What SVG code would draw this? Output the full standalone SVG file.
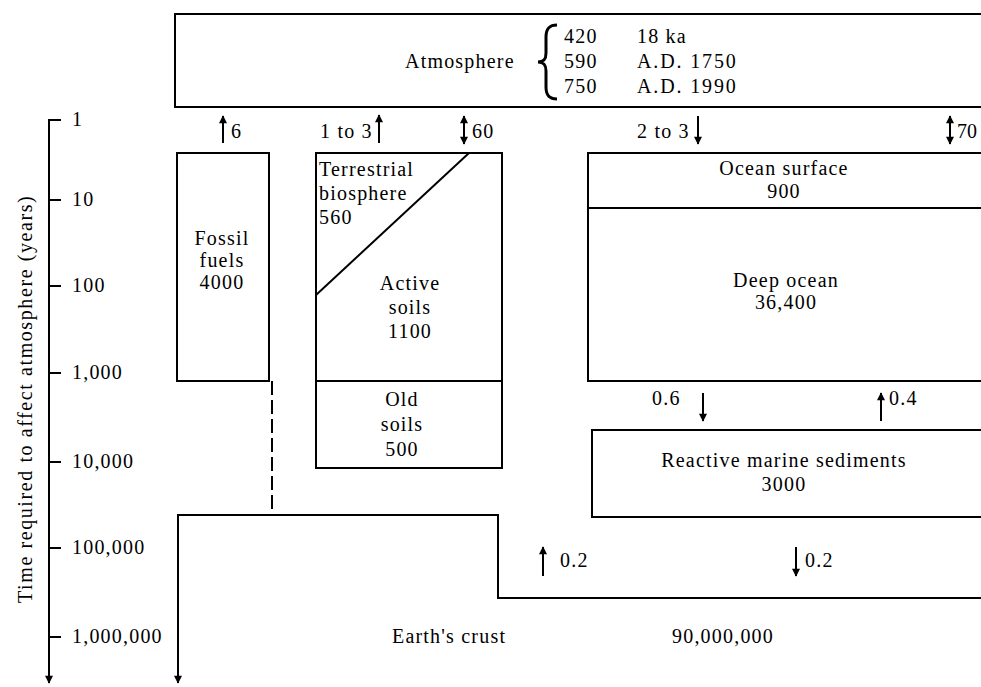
<svg xmlns="http://www.w3.org/2000/svg" width="981" height="687" viewBox="0 0 981 687">
<defs>
<style>
.t{font-family:"Liberation Serif","Times New Roman",serif;font-size:20px;letter-spacing:1.2px;fill:#000}
.m{text-anchor:middle}
.b{fill:none;stroke:#000;stroke-width:2}
.a{stroke:#000;stroke-width:2;fill:none}
</style>
<marker id="ah" viewBox="0 0 10 10" refX="9" refY="5" markerWidth="9" markerHeight="8" markerUnits="userSpaceOnUse" orient="auto-start-reverse">
<path d="M0,0 L10,5 L0,10 z" fill="#000"/>
</marker>
</defs>
<rect width="981" height="687" fill="#fff"/>

<g id="axis">
<line class="a" x1="49" y1="119" x2="49" y2="683" marker-end="url(#ah)"/>
<g class="a">
<line x1="49" y1="120" x2="61" y2="120"/>
<line x1="49" y1="200" x2="61" y2="200"/>
<line x1="49" y1="286" x2="61" y2="286"/>
<line x1="49" y1="373" x2="61" y2="373"/>
<line x1="49" y1="462" x2="61" y2="462"/>
<line x1="49" y1="548" x2="61" y2="548"/>
<line x1="49" y1="637" x2="61" y2="637"/>
</g>
<text class="t" x="72" y="126">1</text>
<text class="t" x="72" y="206">10</text>
<text class="t" x="72" y="292">100</text>
<text class="t" x="72" y="379">1,000</text>
<text class="t" x="72" y="468">10,000</text>
<text class="t" x="72" y="554">100,000</text>
<text class="t" x="72" y="643">1,000,000</text>
<text class="t m" x="32" y="399" transform="rotate(-90 32 399)" textLength="408" lengthAdjust="spacing">Time required to affect atmosphere (years)</text>
</g>

<g id="atmosphere">
<path class="b" d="M981,14 H175 V107 H981"/>
<text class="t" x="405" y="68">Atmosphere</text>
<path d="M557,25 C549,25 546,29 546,37 L546,53 C546,59 544,62 538,62 C544,62 546,65 546,71 L546,87 C546,95 549,99 557,99" fill="none" stroke="#000" stroke-width="3"/>
<text class="t" x="564" y="43">420</text>
<text class="t" x="564" y="68">590</text>
<text class="t" x="564" y="93">750</text>
<text class="t" x="637" y="43">18 ka</text>
<text class="t" x="637" y="68" textLength="100" lengthAdjust="spacing">A.D. 1750</text>
<text class="t" x="637" y="93" textLength="100" lengthAdjust="spacing">A.D. 1990</text>
</g>

<g id="fossil-fuels">
<rect class="b" x="177" y="153" width="92" height="228"/>
<text class="t m" x="222" y="245">Fossil</text>
<text class="t m" x="222" y="267">fuels</text>
<text class="t m" x="222" y="289">4000</text>
</g>

<g id="terrestrial-biosphere">
<rect class="b" x="316" y="153" width="186" height="228"/>
<line class="a" x1="316" y1="295" x2="469" y2="153"/>
<text class="t" x="319" y="176">Terrestrial</text>
<text class="t" x="319" y="200">biosphere</text>
<text class="t" x="319" y="224">560</text>
</g>

<g id="active-soils">
<text class="t m" x="410" y="290">Active</text>
<text class="t m" x="410" y="314">soils</text>
<text class="t m" x="410" y="338">1100</text>
</g>

<g id="old-soils">
<rect class="b" x="316" y="381" width="186" height="87"/>
<text class="t m" x="402" y="406">Old</text>
<text class="t m" x="402" y="431">soils</text>
<text class="t m" x="402" y="456">500</text>
</g>

<g id="ocean-surface">
<path class="b" d="M981,153 H588 V208 H981"/>
<text class="t m" x="784" y="175">Ocean surface</text>
<text class="t m" x="784" y="198">900</text>
</g>

<g id="deep-ocean">
<path class="b" d="M588,208 V381 H981"/>
<text class="t m" x="786" y="287">Deep ocean</text>
<text class="t m" x="786" y="309">36,400</text>
</g>

<g id="marine-sediments">
<path class="b" d="M981,430 H592 V517 H981"/>
<text class="t m" x="784" y="467">Reactive marine sediments</text>
<text class="t m" x="784" y="491">3000</text>
</g>

<g id="earths-crust">
<path class="b" d="M981,598 H498 V515 H178 V683" marker-end="url(#ah)"/>
<line class="a" x1="272" y1="381" x2="272" y2="515" stroke-dasharray="14 5"/>
<text class="t" x="392" y="643">Earth's crust</text>
<text class="t" x="672" y="643">90,000,000</text>
</g>

<g id="connectors">
<line class="a" x1="223" y1="143" x2="223" y2="116" marker-end="url(#ah)"/>
<text class="t" x="231" y="138">6</text>
<text class="t" x="320" y="138">1 to 3</text>
<line class="a" x1="379" y1="143" x2="379" y2="115" marker-end="url(#ah)"/>
<line class="a" x1="464" y1="116" x2="464" y2="144" marker-start="url(#ah)" marker-end="url(#ah)"/>
<text class="t" x="472" y="138">60</text>
<text class="t" x="637" y="138">2 to 3</text>
<line class="a" x1="698" y1="116" x2="698" y2="144" marker-end="url(#ah)"/>
<line class="a" x1="950" y1="116" x2="950" y2="144" marker-start="url(#ah)" marker-end="url(#ah)"/>
<text class="t" x="957" y="138" style="letter-spacing:0">70</text>
<text class="t" x="652" y="405">0.6</text>
<line class="a" x1="703" y1="393" x2="703" y2="421" marker-end="url(#ah)"/>
<line class="a" x1="881" y1="421" x2="881" y2="393" marker-end="url(#ah)"/>
<text class="t" x="889" y="405">0.4</text>
<line class="a" x1="543" y1="576" x2="543" y2="547" marker-end="url(#ah)"/>
<text class="t" x="560" y="567">0.2</text>
<line class="a" x1="796" y1="547" x2="796" y2="576" marker-end="url(#ah)"/>
<text class="t" x="805" y="567">0.2</text>
</g>
</svg>
